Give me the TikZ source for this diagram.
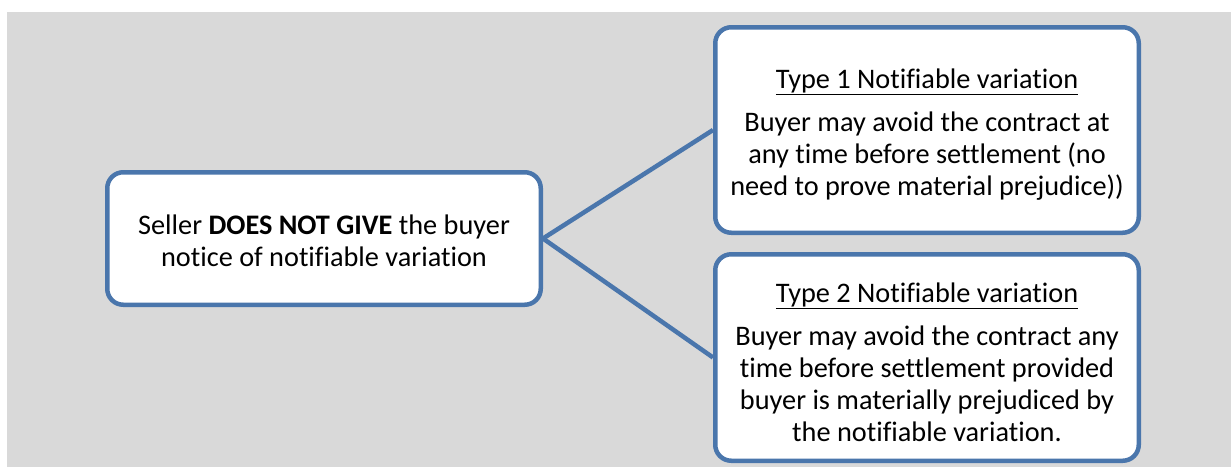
\documentclass[tikz,border=0pt]{standalone}
\usepackage{fontspec}
\setmainfont[Ligatures=NoCommon]{Carlito}
\definecolor{panelgrey}{HTML}{D9D9D9}
\definecolor{edgeblue}{HTML}{4A76AC}
\tikzset{
  card/.style={draw=edgeblue, line width=4.5pt, fill=white, rounded corners=16pt,
    inner sep=0pt},
  cardtext/.style={align=center, inner sep=0pt, font=\fontsize{28.3}{32}\selectfont},
  link/.style={draw=edgeblue, line width=4.5pt},
}
\begin{document}
\begin{tikzpicture}[x=1pt, y=-1pt]
  \useasboundingbox (0,0) rectangle (1231,467);
  \fill[white] (0,0) rectangle (1231,467);
  \fill[panelgrey] (7,12) rectangle (1231,467);

  % left box: the seller's position
  \node[card, minimum width=433.5pt, minimum height=132.5pt] (src) at (324,238.5) {};
  \node[cardtext, yshift=-2pt] (srctext) at (src.center)
    {Seller \textbf{DOES NOT GIVE} the buyer\\notice of notifiable variation};

  % right boxes: the two kinds of variation
  \node[card, minimum width=423.5pt, minimum height=205.5pt] (t1) at (927,130) {};
  \node[cardtext, yshift=-4.5pt] (t1text) at (t1.center)
    {\underline{Type 1 Notifiable variation}\\[11pt]
     Buyer may avoid the contract at\\any time before settlement (no\\need to prove material prejudice))};
  \node[card, minimum width=423.5pt, minimum height=206.5pt] (t2) at (927,357.5) {};
  \node[cardtext, yshift=-4.5pt] (t2text) at (t2.center)
    {\underline{Type 2 Notifiable variation}\\[11pt]
     Buyer may avoid the contract any\\time before settlement provided\\buyer is materially prejudiced by\\the notifiable variation.};

  % connectors
  \draw[link] (src.east) -- (t1.west);
  \draw[link] (src.east) -- (t2.west);
\end{tikzpicture}
\end{document}
